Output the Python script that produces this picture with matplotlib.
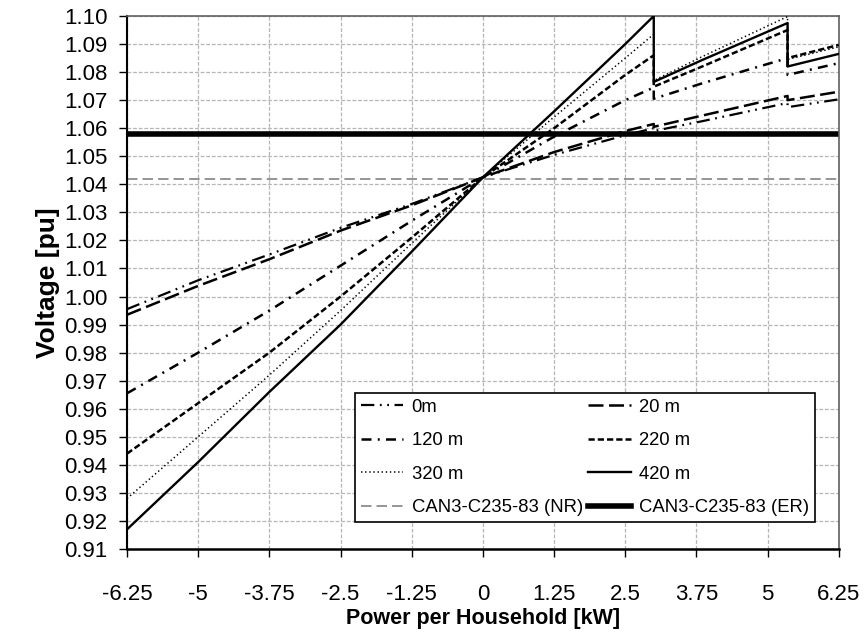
import matplotlib
matplotlib.use("Agg")
import matplotlib.pyplot as plt
from matplotlib.lines import Line2D

plt.rcParams['font.family'] = ['Liberation Sans', 'DejaVu Sans']
plt.rcParams['axes.unicode_minus'] = False

# power per household [kW]; repeated x = voltage-regulator tap change
power = [-6.25, -5, -3.75, -2.5, -1.25, 0, 1.25, 2.5, 3.0, 3.0, 3.85, 5.35, 5.35, 6.25]

# voltage [pu] per distance from transformer
v_0m = [0.9955, 1.0058, 1.0150, 1.0245, 1.0330, 1.0425, 1.0505, 1.0575, 1.0600, 1.0590, 1.0625, 1.0690, 1.0675, 1.0703]
v_20m = [0.9935, 1.0038, 1.0133, 1.0235, 1.0325, 1.0425, 1.0515, 1.0590, 1.0615, 1.0605, 1.0645, 1.0715, 1.0700, 1.0730]
v_120m = [0.9655, 0.9800, 0.9950, 1.0110, 1.0270, 1.0425, 1.0570, 1.0700, 1.0745, 1.0705, 1.0760, 1.0850, 1.0790, 1.0832]
v_220m = [0.9440, 0.9620, 0.9800, 1.0000, 1.0210, 1.0425, 1.0600, 1.0790, 1.0860, 1.0748, 1.0820, 1.0950, 1.0850, 1.0897]
v_320m = [0.9280, 0.9500, 0.9720, 0.9950, 1.0190, 1.0425, 1.0640, 1.0850, 1.0935, 1.0770, 1.0855, 1.0998, 1.0845, 1.0890]
v_420m = [0.9170, 0.9410, 0.9660, 0.9900, 1.0160, 1.0425, 1.0660, 1.0900, 1.1000, 1.0765, 1.0843, 1.0975, 1.0820, 1.0865]

# CAN3-C235-83 limits
limit_nr = 1.042
limit_er = 1.058

x_ticks = [-6.25, -5, -3.75, -2.5, -1.25, 0, 1.25, 2.5, 3.75, 5, 6.25]
y_ticks = [0.91 + 0.01 * i for i in range(20)]

# line styles (dashes are scaled by linewidth)
st_0m = dict(color='black', lw=1.6, dashes=(6, 2.5, 0.8, 2.5, 0.8, 2.5))
st_20m = dict(color='black', lw=1.8, dashes=(6, 2.2))
st_120m = dict(color='black', lw=1.8, dashes=(4, 2.5, 0.8, 2.5))
st_220m = dict(color='black', lw=1.8, dashes=(2.5, 1.2))
st_320m = dict(color='black', lw=1.1, dashes=(0.9, 1.8))
st_420m = dict(color='black', lw=1.7)
st_nr = dict(color='#8c8c8c', lw=1.3, dashes=(5.8, 2.8))
st_er = dict(color='black', lw=4)

fig = plt.figure(figsize=(8.67, 6.35), dpi=100)
ax = fig.add_axes([0.1465, 0.1354, 0.821, 0.8394])

ax.axhline(limit_nr, zorder=2, **st_nr)
ax.axhline(limit_er, zorder=2, **st_er)

ax.plot(power, v_0m, zorder=3, **st_0m)
ax.plot(power, v_20m, zorder=3, **st_20m)
ax.plot(power, v_120m, zorder=3, **st_120m)
ax.plot(power, v_220m, zorder=3, **st_220m)
ax.plot(power, v_320m, zorder=3, **st_320m)
ax.plot(power, v_420m, zorder=3, **st_420m)

ax.set_xlim(-6.25, 6.25)
ax.set_ylim(0.91, 1.10)
ax.set_xticks(x_ticks)
ax.set_xticklabels(['%g' % t for t in x_ticks], fontsize=16)
ax.set_yticks(y_ticks)
ax.set_yticklabels(['%.2f' % t for t in y_ticks], fontsize=16)
ax.tick_params(axis='x', direction='out', length=6, width=1, pad=19)
ax.tick_params(axis='y', direction='out', length=6, width=1, pad=8)

ax.grid(True, color='#b5b5b5', lw=0.9, dashes=(3, 1.5))
ax.set_axisbelow(True)

ax.spines['left'].set_linewidth(1.5)
ax.spines['bottom'].set_linewidth(1.8)
for s in ['top', 'right']:
    ax.spines[s].set_color('#606060')
    ax.spines[s].set_linewidth(1.2)

ax.set_xlabel('Power per Household [kW]', fontsize=15.5, fontweight='bold', labelpad=2)
ax.set_ylabel('Voltage [pu]', fontsize=19, fontweight='bold', labelpad=3)

handles = [Line2D([], [], **s) for s in
           [st_0m, st_120m, st_320m, st_nr, st_20m, st_220m, st_420m, st_er]]
labels = ['0m', '120 m', '320 m', 'CAN3-C235-83 (NR)',
          '20 m', '220 m', '420 m', 'CAN3-C235-83 (ER)']
leg = ax.legend(handles, labels, ncol=2, loc='lower right',
                bbox_to_anchor=(0.967, 0.05), fontsize=13.3, frameon=True,
                fancybox=False, edgecolor='black', framealpha=1,
                handlelength=2.3, handletextpad=0.45, columnspacing=0.3,
                labelspacing=0.9, borderpad=0.32, borderaxespad=0)
leg.get_frame().set_linewidth(1.2)

fig.savefig('out.png', dpi=100)
